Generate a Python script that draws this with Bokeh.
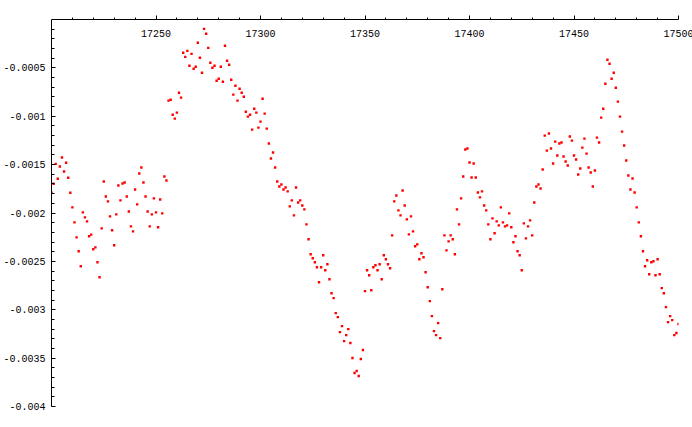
from bokeh.plotting import figure
from bokeh.models import Range1d, FixedTicker
from bokeh.embed import file_html
from bokeh.resources import INLINE

# ---- data ----
first_day = 17200
values = [
    -0.001791, -0.001698, -0.001492, -0.001646, -0.001520, -0.001427, -0.001571, -0.001481, -0.001636, -0.001791,
    -0.001942, -0.002097, -0.002252, -0.002396, -0.002551, -0.001994, -0.002045, -0.002087, -0.002241, -0.002224,
    -0.002375, -0.002355, -0.002509, -0.002664, -0.002159, -0.001674, -0.001829, -0.001880, -0.002035, -0.002179,
    -0.002334, -0.002014, -0.001715, -0.001870, -0.001695, -0.001685, -0.001829, -0.001984, -0.002138, -0.002190,
    -0.001757, -0.001911, -0.001592, -0.001530, -0.001685, -0.001829, -0.001984, -0.002138, -0.002014, -0.001849,
    -0.001994, -0.002148, -0.001860, -0.002004, -0.001623, -0.001664, -0.000839, -0.000829, -0.000984, -0.001025,
    -0.000963, -0.000757, -0.000808, -0.000344, -0.000386, -0.000324, -0.000478, -0.000355, -0.000509, -0.000489,
    -0.000241, -0.000396, -0.000551, -0.000097, -0.000148, -0.000293, -0.000447, -0.000499, -0.000478, -0.000633,
    -0.000612, -0.000489, -0.000643, -0.000272, -0.000427, -0.000468, -0.000623, -0.000777, -0.000685, -0.000839,
    -0.000715, -0.000757, -0.000798, -0.000953, -0.001004, -0.000984, -0.001138, -0.000922, -0.000963, -0.001118,
    -0.001056, -0.000819, -0.000973, -0.001128, -0.001282, -0.001437, -0.001375, -0.001530, -0.001674, -0.001726,
    -0.001705, -0.001757, -0.001736, -0.001777, -0.001932, -0.001870, -0.002025, -0.001736, -0.001891, -0.001870,
    -0.001922, -0.001963, -0.002118, -0.002272, -0.002427, -0.002468, -0.002509, -0.002561, -0.002715, -0.002561,
    -0.002437, -0.002592, -0.002530, -0.002685, -0.002829, -0.002880, -0.003035, -0.003076, -0.003231, -0.003169,
    -0.003324, -0.003262, -0.003200, -0.003344, -0.003499, -0.003654, -0.003633, -0.003685, -0.003509, -0.003416,
    -0.002808, -0.002592, -0.002643, -0.002798, -0.002561, -0.002540, -0.002592, -0.002530, -0.002685, -0.002437,
    -0.002478, -0.002530, -0.002571, -0.002231, -0.001880, -0.001819, -0.001973, -0.002025, -0.001767, -0.001922,
    -0.002066, -0.002221, -0.002035, -0.002190, -0.002344, -0.002324, -0.002478, -0.002416, -0.002458, -0.002612,
    -0.002767, -0.002911, -0.003066, -0.003221, -0.003262, -0.003138, -0.003293, -0.002788, -0.002231, -0.002386,
    -0.002293, -0.002231, -0.002272, -0.002427, -0.001963, -0.002118, -0.001849, -0.001623, -0.001344, -0.001334,
    -0.001478, -0.001633, -0.001489, -0.001633, -0.001788, -0.001839, -0.001777, -0.001922, -0.001973, -0.002118,
    -0.002272, -0.002056, -0.002210, -0.002087, -0.002128, -0.001942, -0.002097, -0.002138, -0.002128, -0.002004,
    -0.002148, -0.002303, -0.002241, -0.002396, -0.002437, -0.002592, -0.002107, -0.002262, -0.002138, -0.002076,
    -0.002231, -0.001891, -0.001726, -0.001705, -0.001746, -0.001551, -0.001200, -0.001355, -0.001179, -0.001334,
    -0.001489, -0.001262, -0.001406, -0.001282, -0.001272, -0.001416, -0.001468, -0.001509, -0.001210, -0.001252,
    -0.001406, -0.001447, -0.001602, -0.001540, -0.001324, -0.001231, -0.001386, -0.001530, -0.001581, -0.001726,
    -0.001561, -0.001221, -0.001272, -0.001014, -0.000922, -0.000664, -0.000416, -0.000458, -0.000612, -0.000551,
    -0.000705, -0.000849, -0.001004, -0.001159, -0.001303, -0.001458, -0.001612, -0.001757, -0.001643, -0.001788,
    -0.001942, -0.002097, -0.002241, -0.002396, -0.002551, -0.002489, -0.002633, -0.002509, -0.002499, -0.002643,
    -0.002478, -0.002633, -0.002777, -0.002829, -0.002973, -0.003128, -0.003066, -0.003107, -0.003262, -0.003241,
    -0.003148,
]
days = list(range(first_day, first_day + len(values)))

x_tick_values = [17250, 17300, 17350, 17400, 17450, 17500]
x_tick_labels = ["17250", "17300", "17350", "17400", "17450", "17500"]
y_tick_values = [-0.0005, -0.001, -0.0015, -0.002, -0.0025, -0.003, -0.0035, -0.004]
y_tick_labels = ["-0.0005", "-0.001", "-0.0015", "-0.002", "-0.0025", "-0.003", "-0.0035", "-0.004"]

# ---- figure ----
p = figure(frame_width=627, frame_height=387,
           x_range=Range1d(17200, 17500), y_range=Range1d(-0.004, 0),
           x_axis_location="above", y_axis_location="left",
           output_backend="svg", toolbar_location=None,
           min_border_left=49, min_border_right=16, min_border_top=19, min_border_bottom=14)
p.outline_line_color = None
p.grid.visible = False
p.background_fill_color = "white"
p.border_fill_color = "white"

xa = p.xaxis[0]
xa.ticker = FixedTicker(ticks=x_tick_values, minor_ticks=list(range(17210, 17500, 10)))
xa.major_tick_out = 4
xa.major_tick_in = 0
xa.minor_tick_out = 2
xa.minor_tick_in = 0
xa.major_label_overrides = {v: s for v, s in zip(x_tick_values, x_tick_labels)}
xa.major_label_text_font = "Liberation Mono"
xa.major_label_text_font_size = "10px"
xa.major_label_text_color = "black"
xa.major_label_standoff = -21
xa.axis_line_color = "black"
xa.major_tick_line_color = "black"
xa.minor_tick_line_color = "black"

ya = p.yaxis[0]
ya.ticker = FixedTicker(ticks=y_tick_values, minor_ticks=[-k * 0.0001 for k in range(1, 41)])
ya.major_tick_in = 4
ya.major_tick_out = 0
ya.minor_tick_in = 3
ya.minor_tick_out = 0
ya.major_label_standoff = 6
ya.major_label_overrides = {v: s for v, s in zip(y_tick_values, y_tick_labels)}
ya.major_label_text_font = "Liberation Mono"
ya.major_label_text_font_size = "10px"
ya.major_label_text_color = "black"
ya.axis_line_color = "black"
ya.major_tick_line_color = "black"
ya.minor_tick_line_color = "black"

p.scatter(days, values, marker="square", size=2.4, fill_color="#ff0000", line_color=None)

open("out.html", "w").write(file_html(p, INLINE))
